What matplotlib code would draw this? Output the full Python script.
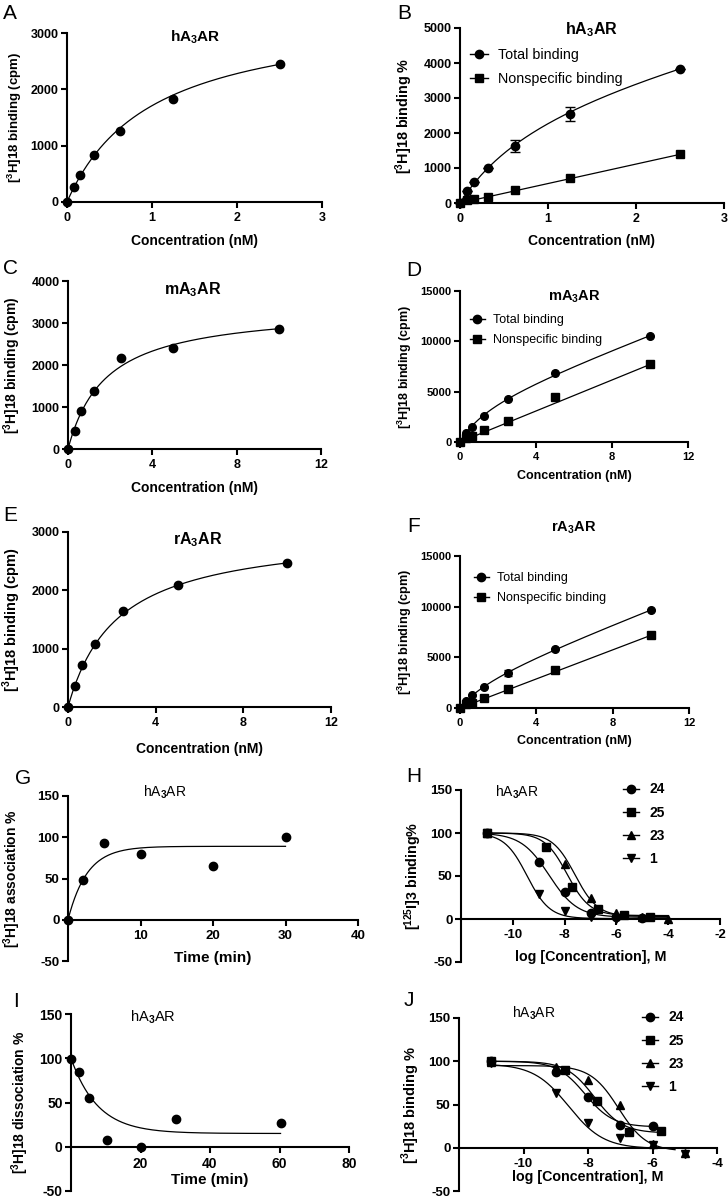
import numpy as np
import matplotlib
matplotlib.use('Agg')
import matplotlib.pyplot as plt
from matplotlib.lines import Line2D

plt.rcParams['font.family'] = ['Liberation Sans', 'DejaVu Sans']
plt.rcParams['font.weight'] = 'bold'
plt.rcParams['axes.labelweight'] = 'bold'
plt.rcParams['axes.unicode_minus'] = False
plt.rcParams['mathtext.fontset'] = 'custom'
plt.rcParams['mathtext.rm'] = 'Liberation Sans'
plt.rcParams['mathtext.bf'] = 'Liberation Sans:bold'

# ---------------- data ----------------
# A/B  hA3AR saturation
conc_h = [0, 0.078, 0.156, 0.3125, 0.625, 1.25, 2.5]
spec_h = [0, 266, 485, 828, 1254, 1828, 2450]
total_h = [0, 343, 600, 1010, 1630, 2545, 3840]
total_h_err = [0, 0, 0, 0, 160, 210, 0]
nonspec_h = [0, 76, 124, 181, 362, 714, 1390]
fit_h = dict(bmax=3420, kd=1.0)
fit_h_ns = 556

# C/D  mA3AR saturation
conc_m = [0, 0.3125, 0.625, 1.25, 2.5, 5, 10]
spec_m = [0, 436, 903, 1378, 2170, 2400, 2860]
total_m = [0, 860, 1520, 2570, 4260, 6870, 10570]
nonspec_m = [0, 370, 600, 1190, 2110, 4490, 7700]
fit_m = dict(bmax=3380, kd=1.8)
fit_m_tot = dict(bmax=4150, kd=1.64, ns=700)
fit_m_ns = 770

# E/F  rA3AR saturation
conc_r = [0, 0.3125, 0.625, 1.25, 2.5, 5, 10]
spec_r = [0, 353, 712, 1082, 1645, 2083, 2470]
total_r = [0, 720, 1280, 2100, 3450, 5820, 9670]
total_r_err = [0, 0, 0, 0, 300, 0, 0]
nonspec_r = [0, 420, 520, 1020, 1840, 3720, 7170]
fit_r = dict(bmax=3026, kd=2.25)
fit_r_tot = dict(bmax=2950, kd=1.82, ns=717)
fit_r_ns = 717

# G  association kinetics
t_assoc = [0, 2, 5, 10, 20, 30]
assoc = [0, 47.8, 93.3, 79.6, 64.7, 99.7]
fit_assoc = dict(plateau=89, k=0.38)

# I  dissociation kinetics
t_dissoc = [0, 2.2, 5.1, 10.3, 20, 30.2, 60.3]
dissoc = [99.6, 84.6, 55.3, 7.9, 0, 30.8, 26.7]
fit_dissoc = dict(plateau=15, span=85, k=0.13)

# H  [125I]3 competition
compounds = ['24', '25', '23', '1']
markers = ['o', 's', '^', 'v']
h_x = {'24': [-11, -9, -8, -7, -6, -5],
       '25': [-11, -8.7, -7.7, -6.7, -5.7, -4.7],
       '23': [-11, -8, -7, -6, -5, -4],
       '1': [-11, -9, -8, -7, -6]}
h_y = {'24': [100, 66.7, 31.8, 7.4, 1.9, 1.6],
       '25': [100, 83.7, 37.6, 11.2, 4.7, 1.9],
       '23': [100, 64, 25, 6.6, 2, 0],
       '1': [100, 29, 9.7, 1.9, 0.5]}
h_fit = {'24': (100, 2, -8.6, 0.8), '25': (100, 4, -7.9, 1.0),
         '23': (100, 3, -7.6, 1.0), '1': (100, 0.5, -9.45, 1.0)}

# J  [3H]18 competition
j_x = {'24': [-11, -9, -8, -7, -6],
       '25': [-11, -8.7, -7.72, -6.73, -5.74],
       '23': [-11, -9, -8, -7, -6, -5],
       '1': [-11, -9, -8, -7, -6, -5]}
j_y = {'24': [100.3, 87.4, 58.3, 26.4, 25.6],
       '25': [100, 89.4, 54.4, 17.9, 19.8],
       '23': [99, 93.7, 78.9, 49.7, 4.3, -6.6],
       '1': [98, 63.4, 28.4, 11.3, 3.5, -7.4]}
j_fit = {'24': (100, 24, -8.09, 1.0), '25': (100, 17, -7.8, 1.0),
         '23': (95, -4, -7.05, 1.0), '1': (97, -1, -8.6, 0.8)}
j_end = {'24': -6, '25': -5.74, '23': -5.3, '1': -5.5}


def one_site(x, bmax, kd, ns=0.0):
    return bmax * x / (kd + x) + ns * x


def dose(lx, top, bottom, logic50, hill):
    return bottom + (top - bottom) / (1 + 10 ** ((lx - logic50) * hill))


# ---------------- layout helpers ----------------
W, H = 728, 1199
fig = plt.figure(figsize=(W / 100, H / 100), dpi=100)


def fx(x):
    return x / W


def fy(y):
    return 1 - y / H


def panel(rect, xlim, xticks, ylim, yticks, fs, xlabel, ylabel, xlab_top, ylab_right,
          zero_axis=False, xfs=None, yfs=None):
    l, t, r, b = rect
    ax = fig.add_axes([fx(l), fy(b), (r - l) / W, (b - t) / H])
    ax.set_xlim(*xlim)
    ax.set_ylim(*ylim)
    ax.set_xticks(xticks)
    ax.set_yticks(yticks)
    for s in ['top', 'right']:
        ax.spines[s].set_visible(False)
    for s in ['left', 'bottom']:
        ax.spines[s].set_linewidth(1.5)
    if zero_axis:
        ax.spines['bottom'].set_position(('data', 0))
    ax.tick_params(axis='both', width=1.5, length=4.5, labelsize=fs)
    ax.tick_params(axis='x', pad=3)
    ax.tick_params(axis='y', pad=1.5)
    ax.set_xlabel(xlabel, fontsize=xfs or fs + 1)
    ax.set_ylabel(ylabel, fontsize=yfs or fs + 1)
    ax.xaxis.set_label_coords(fx((l + r) / 2), fy(xlab_top), transform=fig.transFigure)
    ax.yaxis.set_label_coords(fx(ylab_right), fy((t + b) / 2), transform=fig.transFigure)
    return ax


def letter(x, y, s):
    fig.text(fx(x), fy(y), s, fontsize=15, fontweight='normal', ha='left', va='top')


def title(x, y, s, fs, bold=True):
    fig.text(fx(x), fy(y), s, fontsize=fs, fontweight='bold' if bold else 'normal',
             ha='center', va='center')


def legend(ax, handles, labels, mx, y1, fs, pitch, hl=1.2, bold=False):
    fs_px = fs * 100 / 72
    leg = ax.legend(handles, labels, loc='upper left', frameon=False,
                    bbox_to_anchor=(fx(mx - hl * fs_px / 2), fy(y1 - 0.62 * fs_px + 3)),
                    bbox_transform=fig.transFigure, borderpad=0, borderaxespad=0,
                    handlelength=hl, handletextpad=0.7,
                    labelspacing=(pitch - 1.15 * fs_px) / fs_px + 2.5 / fs_px,
                    prop=dict(size=fs, weight='bold' if bold else 'normal'))
    return leg


def proxy(m):
    return Line2D([], [], color='k', marker=m, ms=6, lw=1)


ylab_cpm = r'[$^\mathbf{3}$H]18 binding (cpm)'
xlab_conc = 'Concentration (nM)'
MS = 6
LW = 0.9

# ---------- A ----------
ax = panel((67, 33, 322, 202), (0, 3), [0, 1, 2, 3], (0, 3000), [0, 1000, 2000, 3000],
           9, xlab_conc, ylab_cpm, 234, 24, xfs=10, yfs=9.5)
xs = np.linspace(0, conc_h[-1], 200)
ax.plot(xs, one_site(xs, **fit_h), color='k', lw=LW)
ax.plot(conc_h, spec_h, 'o', color='k', ms=MS, clip_on=False)
letter(3, 4, 'A')
title(195, 37, r'hA$_\mathbf{3}$AR', 11)

# ---------- B ----------
ax = panel((460, 28, 724, 203), (0, 3), [0, 1, 2, 3], (0, 5000), [0, 1000, 2000, 3000, 4000, 5000],
           9, xlab_conc, r'[$^\mathbf{3}$H]18 binding %', 234, 415, xfs=10, yfs=10.4)
ax.plot(xs, one_site(xs, fit_h['bmax'], fit_h['kd'], fit_h_ns), color='k', lw=LW)
ax.plot(xs, fit_h_ns * xs, color='k', lw=LW)
ax.errorbar(conc_h, total_h, yerr=total_h_err, fmt='o', color='k', ms=MS,
            capsize=3.5, elinewidth=1, capthick=1, clip_on=False)
ax.plot(conc_h, nonspec_h, 's', color='k', ms=MS, clip_on=False)
legend(ax, [proxy('o'), proxy('s')], ['Total binding', 'Nonspecific binding'], 479, 54, 10.3, 24)
letter(397, 4, 'B')
title(592, 30, r'hA$_\mathbf{3}$AR', 11.5)

# ---------- C ----------
ax = panel((68, 281, 321, 449), (0, 12), [0, 4, 8, 12], (0, 4000), [0, 1000, 2000, 3000, 4000],
           9, xlab_conc, ylab_cpm, 481, 23, xfs=10, yfs=10)
xs = np.linspace(0, conc_m[-1], 200)
ax.plot(xs, one_site(xs, **fit_m), color='k', lw=LW)
ax.plot(conc_m, spec_m, 'o', color='k', ms=MS, clip_on=False)
letter(3, 259, 'C')
title(193, 290, r'mA$_\mathbf{3}$AR', 11.5)

# ---------- D ----------
ax = panel((460, 291, 688, 442), (0, 12), [0, 4, 8, 12], (0, 15000), [0, 5000, 10000, 15000],
           8, xlab_conc, ylab_cpm, 470, 414, xfs=9, yfs=9)
ax.plot(xs, one_site(xs, **fit_m_tot), color='k', lw=LW)
ax.plot(xs, fit_m_ns * xs, color='k', lw=LW)
ax.plot(conc_m, total_m, 'o', color='k', ms=MS - 0.5, clip_on=False)
ax.plot(conc_m, nonspec_m, 's', color='k', ms=MS - 0.5, clip_on=False)
legend(ax, [proxy('o'), proxy('s')], ['Total binding', 'Nonspecific binding'], 477, 319, 9, 20)
letter(406, 261, 'D')
title(574, 297, r'mA$_\mathbf{3}$AR', 10.5)

# ---------- E ----------
ax = panel((68, 532, 331, 707), (0, 12), [0, 4, 8, 12], (0, 3000), [0, 1000, 2000, 3000],
           9, xlab_conc, ylab_cpm, 742, 23, xfs=10, yfs=10.5)
xs = np.linspace(0, conc_r[-1], 200)
ax.plot(xs, one_site(xs, **fit_r), color='k', lw=LW)
ax.plot(conc_r, spec_r, 'o', color='k', ms=MS, clip_on=False)
letter(3, 506, 'E')
title(198, 540, r'rA$_\mathbf{3}$AR', 11.5)

# ---------- F ----------
ax = panel((460, 556, 689, 708), (0, 12), [0, 4, 8, 12], (0, 15000), [0, 5000, 10000, 15000],
           8, xlab_conc, ylab_cpm, 735, 414, xfs=9, yfs=9.2)
ax.plot(xs, one_site(xs, **fit_r_tot), color='k', lw=LW)
ax.plot(xs, fit_r_ns * xs, color='k', lw=LW)
ax.errorbar(conc_r, total_r, yerr=total_r_err, fmt='o', color='k', ms=MS - 0.5,
            capsize=3, elinewidth=1, capthick=1, clip_on=False)
ax.plot(conc_r, nonspec_r, 's', color='k', ms=MS - 0.5, clip_on=False)
legend(ax, [proxy('o'), proxy('s')], ['Total binding', 'Nonspecific binding'], 481, 577, 9, 20)
letter(407, 517, 'F')
title(574, 528, r'rA$_\mathbf{3}$AR', 10.5)

# ---------- G ----------
ax = panel((68, 796, 358, 961), (0, 40), [10, 20, 30, 40], (-50, 150), [-50, 0, 50, 100, 150],
           9.5, 'Time (min)', r'[$^\mathbf{3}$H]18 association %', 951, 23, zero_axis=True,
           xfs=11, yfs=10)
ts = np.linspace(0, t_assoc[-1], 200)
ax.plot(ts, fit_assoc['plateau'] * (1 - np.exp(-fit_assoc['k'] * ts)), color='k', lw=LW)
ax.plot(t_assoc, assoc, 'o', color='k', ms=MS, clip_on=False)
letter(15, 769, 'G')
title(165, 792, r'hA$_3$AR', 10, bold=False)

# ---------- H ----------
ax = panel((461, 790, 720, 962), (-12, -2), [-10, -8, -6, -4, -2], (-50, 150), [-50, 0, 50, 100, 150],
           9.5, 'log [Concentration], M', r'[$^\mathbf{125}$I]3 binding%', 950, 424, zero_axis=True,
           xfs=10.3, yfs=10.3)
lx = np.linspace(-11, -4, 300)
for c, m in zip(compounds, markers):
    ax.plot(lx, dose(lx, *h_fit[c]), color='k', lw=LW)
    ax.plot(h_x[c], h_y[c], m, color='k', ms=MS, clip_on=False)
legend(ax, [proxy(m) for m in markers], compounds, 631, 788, 10, 22.7, bold=True)
letter(406, 767, 'H')
title(517, 792, r'hA$_3$AR', 10, bold=False)

# ---------- I ----------
ax = panel((71, 1014, 349, 1191), (0, 80), [20, 40, 60, 80], (-50, 150), [-50, 0, 50, 100, 150],
           10, 'Time (min)', r'[$^\mathbf{3}$H]18 dissociation %', 1173, 31, zero_axis=True,
           xfs=11, yfs=10)
ts = np.linspace(0, t_dissoc[-1], 300)
ax.plot(ts, fit_dissoc['plateau'] + fit_dissoc['span'] * np.exp(-fit_dissoc['k'] * ts),
        color='k', lw=LW)
ax.plot(t_dissoc, dissoc, 'o', color='k', ms=MS, clip_on=False)
letter(13, 992, 'I')
title(153, 1017, r'hA$_3$AR', 10.5, bold=False)

# ---------- J ----------
ax = panel((459, 1018, 717, 1191), (-12, -4), [-10, -8, -6, -4], (-50, 150), [-50, 0, 50, 100, 150],
           9.5, 'log [Concentration], M', r'[$^\mathbf{3}$H]18 binding %', 1170, 422, zero_axis=True,
           xfs=10.3, yfs=10.5)
for c, m in zip(compounds, markers):
    lx = np.linspace(-11, j_end[c], 300)
    ax.plot(lx, dose(lx, *j_fit[c]), color='k', lw=LW)
    ax.plot(j_x[c], j_y[c], m, color='k', ms=MS, clip_on=False)
legend(ax, [proxy(m) for m in markers], compounds, 650, 1016, 10, 22.7, bold=True)
letter(404, 991, 'J')
title(534, 1013, r'hA$_3$AR', 10, bold=False)

fig.savefig('out.png', dpi=100)
